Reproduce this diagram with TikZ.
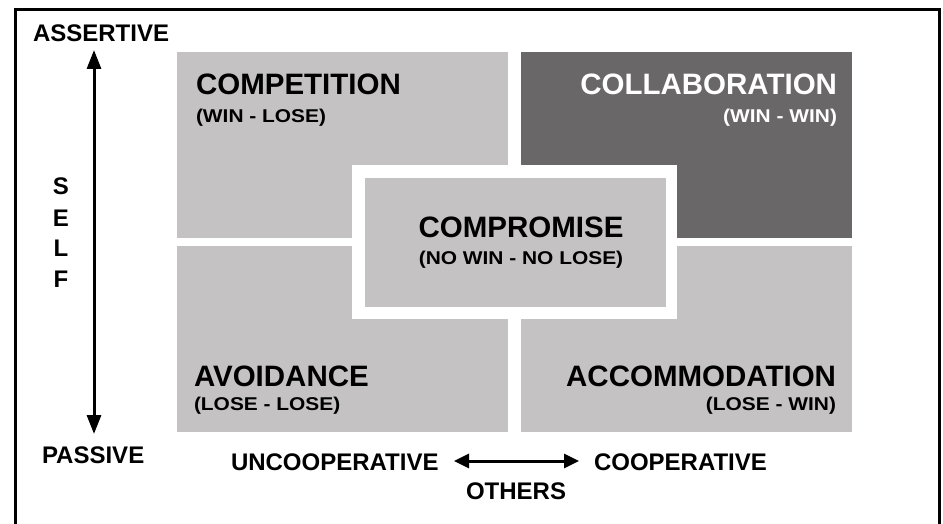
\documentclass[tikz,border=0pt]{standalone}
\usepackage{fontspec}
\setmainfont{Liberation Sans}
\usetikzlibrary{arrows.meta}
\definecolor{lightbox}{HTML}{C4C2C3}
\definecolor{darkbox}{HTML}{6A6768}
\newcommand{\titlefont}{\fontsize{29.5}{31}\selectfont\bfseries}
\newcommand{\axisfont}{\fontsize{24}{26}\selectfont\bfseries}
\newcommand{\subt}[1]{\scalebox{1.13}[1]{\fontsize{18.5}{20}\selectfont\bfseries #1}}
\begin{document}
\begin{tikzpicture}[x=1pt,y=-1pt,
  txt/.style={inner sep=0pt,outer sep=0pt},
  axisarrow/.style={line width=3pt,-{Triangle[length=19pt,width=14pt]}},
  axisarrow2/.style={line width=3pt,{Triangle[length=15pt,width=14pt]}-{Triangle[length=15pt,width=14pt]}}]
\useasboundingbox (0,0) rectangle (943,524);
\fill[white] (0,0) rectangle (943,524);
\draw[line width=3pt] (15,540) -- (15,10) -- (939,10) -- (939,540);
% quadrants
\fill[lightbox] (177,52) rectangle (508,238);
\fill[darkbox] (521,52) rectangle (852,238);
\fill[lightbox] (177,246) rectangle (508,432);
\fill[lightbox] (521,246) rectangle (852,432);
\fill[white] (352,165) rectangle (677,319);
\fill[lightbox] (365,178) rectangle (666,307);
% quadrant texts
\node[txt,anchor=base west] (comp) at (196,95) {\titlefont COMPETITION};
\node[txt,anchor=base west] (compsub) at (196,123) {\subt{(WIN - LOSE)}};
\node[txt,anchor=base east,text=white] (coll) at (837,95) {\titlefont COLLABORATION};
\node[txt,anchor=base east,text=white] (collsub) at (837,123) {\subt{(WIN - WIN)}};
\node[txt,anchor=base] (cmpr) at (521,237) {\titlefont COMPROMISE};
\node[txt,anchor=base] (cmprsub) at (521,264) {\subt{(NO WIN - NO LOSE)}};
\node[txt,anchor=base west] (avoid) at (194,386) {\titlefont AVOIDANCE};
\node[txt,anchor=base west] (avoidsub) at (194,410) {\subt{(LOSE - LOSE)}};
\node[txt,anchor=base east] (acc) at (836,386) {\titlefont ACCOMMODATION};
\node[txt,anchor=base east] (accsub) at (836,410) {\subt{(LOSE - WIN)}};
% axis labels
\node[txt,anchor=base west] (assert) at (33,42) {\axisfont ASSERTIVE};
\node[txt,anchor=base west] (passive) at (42,463) {\axisfont PASSIVE};
\node[txt,anchor=base] (s) at (61,195) {\axisfont S};
\node[txt,anchor=base] (e) at (61,226) {\axisfont E};
\node[txt,anchor=base] (l) at (61,256) {\axisfont L};
\node[txt,anchor=base] (f) at (61,287) {\axisfont F};
\node[txt,anchor=base west] (uncoop) at (231,470) {\axisfont UNCOOPERATIVE};
\node[txt,anchor=base west] (coop) at (594,470) {\axisfont COOPERATIVE};
\node[txt,anchor=base] (others) at (516,499) {\axisfont OTHERS};
% arrows
\coordinate (vtop) at (94,50);
\coordinate (vbot) at (94,434);
\coordinate (vmid) at (94,242);
\draw[axisarrow] (vmid) -- (vtop);
\draw[axisarrow] (vmid) -- (vbot);
\coordinate (hl) at (454,461);
\coordinate (hr) at (579,461);
\draw[axisarrow2] (hl) -- (hr);
\end{tikzpicture}
\end{document}
